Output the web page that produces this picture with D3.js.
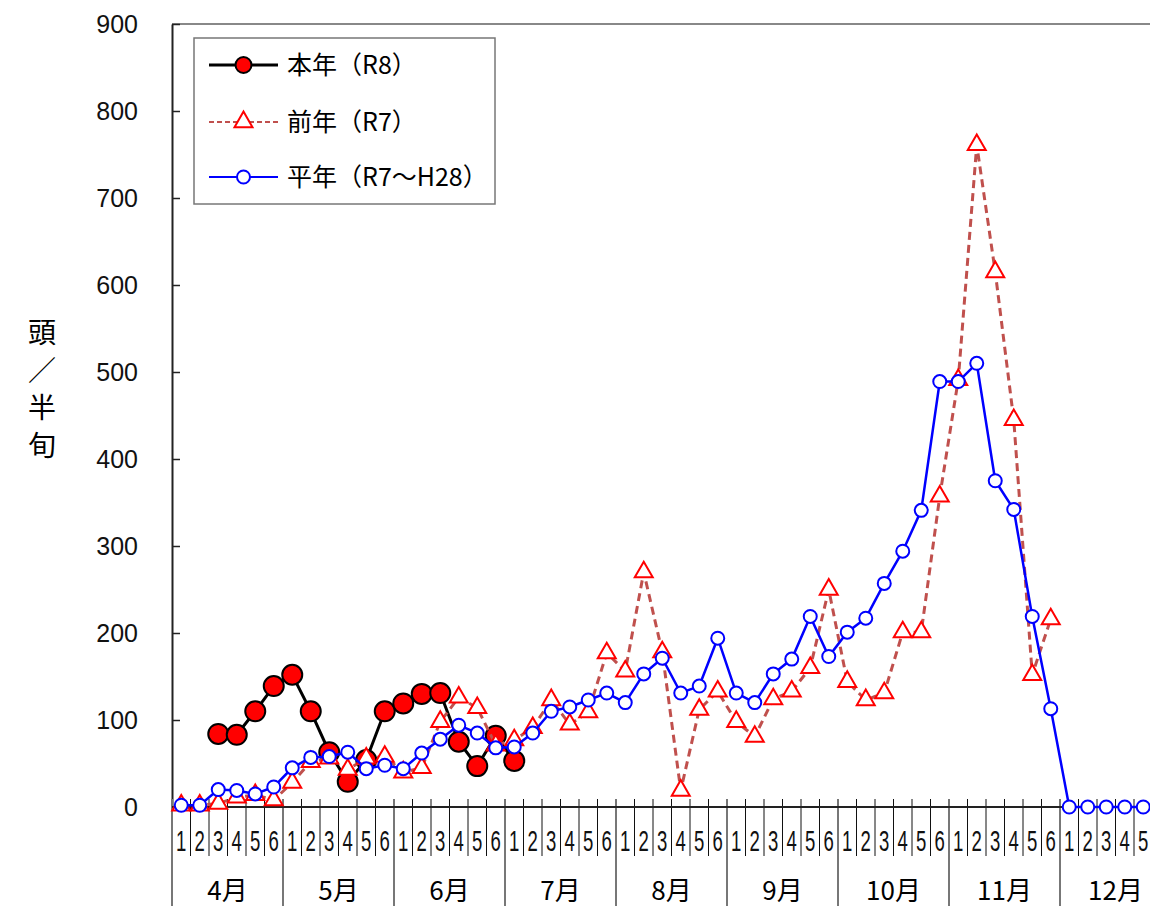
<!DOCTYPE html>
<html>
<head>
<meta charset="utf-8">
<script src="https://cdn.jsdelivr.net/npm/d3@7"></script>
<style>
  html, body { margin: 0; padding: 0; background: #fff; overflow: hidden; }
</style>
</head>
<body>
<script>
// months and 半旬 (1-6) per month
const months = ["4月", "5月", "6月", "7月", "8月", "9月", "10月", "11月", "12月"];
const thirds = ["1", "2", "3", "4", "5", "6"];

// 本年 (R8)
const thisYear = [null, null, 84, 83, 110, 139,
                  152, 110, 63, 29, 54, 110,
                  119, 130, 131, 75, 47, 82,
                  53];
// 前年 (R7)
const lastYear = [2, 2, 4, 11, 14, 8,
                  28, 52, 56, 43, 56, 58,
                  40, 45, 98, 126, 114, 71,
                  77, 91, 123, 95, 109, 177,
                  156, 270, 178, 19, 112, 133,
                  98, 81, 124, 133, 160, 250,
                  144, 123, 131, 201, 201, 357,
                  491, 761, 615, 445, 152, 216];
// 平年 (R7～H28)
const normalYear = [2, 2, 20, 19, 15, 23,
                    45, 57, 58, 63, 44, 48,
                    44, 62, 78, 94, 85, 68,
                    69, 85, 110, 115, 123, 131,
                    120, 153, 171, 131, 139, 194,
                    131, 120, 153, 170, 219, 173,
                    201, 217, 257, 294, 341, 489,
                    489, 510, 375, 342, 219, 113,
                    0, 0, 0, 0, 0, 0];

const yTicks = [0, 100, 200, 300, 400, 500, 600, 700, 800, 900];

document.addEventListener('DOMContentLoaded', function() {
    const width = 1150, height = 906;
    const left = 172, top = 24, bottom = 807;
    const step = 18.5;

    const slots = [];
    months.forEach((m, mi) => thirds.forEach((t, ti) => slots.push({key: mi + "-" + ti, month: m, label: t, i: mi * 6 + ti})));

    const svg = d3.select("body").append("svg")
        .attr("width", width)
        .attr("height", height)
        .style("font-family", "'Noto Sans CJK JP', sans-serif");

    const x = d3.scaleBand()
        .domain(slots.map(d => d.key))
        .range([left, left + slots.length * step])
        .padding(0);

    const y = d3.scaleLinear()
        .domain([0, 900])
        .range([bottom, top]);

    const cx = i => x(slots[i].key) + x.bandwidth() / 2;

    // top border of plot area
    svg.append("line")
        .attr("x1", left).attr("x2", left + slots.length * step)
        .attr("y1", top).attr("y2", top)
        .attr("stroke", "#888").attr("stroke-width", 2);

    // y axis
    const yAxis = svg.append("g")
        .attr("transform", `translate(${left},0)`)
        .call(d3.axisLeft(y).tickValues(yTicks).tickSizeInner(-8).tickSizeOuter(0).tickPadding(34));
    yAxis.select(".domain").attr("stroke", "#222").attr("stroke-width", 2);
    yAxis.selectAll(".tick line").attr("stroke", "#222").attr("stroke-width", 1.5);
    yAxis.selectAll(".tick text")
        .style("font-family", "'Liberation Sans', Arial, sans-serif")
        .style("font-size", "25px")
        .attr("fill", "#111");

    // y axis title, vertical
    const title = ["頭", "／", "半", "旬"];
    svg.append("g").selectAll("text")
        .data(title)
        .join("text")
        .attr("x", 42)
        .attr("y", (d, i) => 343 + i * 37.5)
        .attr("text-anchor", "middle")
        .style("font-size", "28px")
        .attr("fill", "#000")
        .text(d => d);

    // x axis: slot separators and month separators
    const xa = svg.append("g");
    xa.selectAll("line.slot")
        .data(slots.filter(d => d.i % 6 !== 0))
        .join("line")
        .attr("class", "slot")
        .attr("x1", d => x(d.key)).attr("x2", d => x(d.key))
        .attr("y1", bottom - 8).attr("y2", 856)
        .attr("stroke", "#111").attr("stroke-width", 1);
    xa.selectAll("line.month")
        .data(slots.filter(d => d.i % 6 === 0))
        .join("line")
        .attr("class", "month")
        .attr("x1", d => x(d.key)).attr("x2", d => x(d.key))
        .attr("y1", bottom - 8).attr("y2", height)
        .attr("stroke", "#777").attr("stroke-width", 2);
    xa.append("line")
        .attr("x1", left).attr("x2", left + slots.length * step)
        .attr("y1", bottom).attr("y2", bottom)
        .attr("stroke", "#222").attr("stroke-width", 2);

    xa.selectAll("text.slot")
        .data(slots)
        .join("text")
        .attr("class", "slot")
        .attr("transform", d => `translate(${x(d.key) + x.bandwidth() / 2},851) scale(0.64,1)`)
        .attr("text-anchor", "middle")
        .style("font-family", "'Liberation Sans', Arial, sans-serif")
        .style("font-size", "29px")
        .attr("fill", "#111")
        .text(d => d.label);

    xa.selectAll("text.month")
        .data(months)
        .join("text")
        .attr("class", "month")
        .attr("x", (d, mi) => x(mi + "-0") + 3 * step)
        .attr("y", 900)
        .attr("text-anchor", "middle")
        .style("font-size", "26px")
        .attr("fill", "#000")
        .text(d => d);

    const line = d3.line()
        .defined(d => d != null)
        .x((d, i) => cx(i))
        .y(d => y(d));

    // 本年
    svg.append("path")
        .datum(thisYear)
        .attr("d", line)
        .attr("fill", "none")
        .attr("stroke", "#000")
        .attr("stroke-width", 3);
    svg.append("g").selectAll("circle")
        .data(thisYear.map((v, i) => ({v, i})).filter(d => d.v != null))
        .join("circle")
        .attr("cx", d => cx(d.i))
        .attr("cy", d => y(d.v))
        .attr("r", 10)
        .attr("fill", "#ff0000")
        .attr("stroke", "#000")
        .attr("stroke-width", 2);

    // 前年
    svg.append("path")
        .datum(lastYear)
        .attr("d", line)
        .attr("fill", "none")
        .attr("stroke", "#c0504d")
        .attr("stroke-width", 3)
        .attr("stroke-dasharray", "8,5");
    const tri = d3.symbol().type(d3.symbolTriangle).size(140);
    svg.append("g").selectAll("path")
        .data(lastYear.map((v, i) => ({v, i})))
        .join("path")
        .attr("d", tri)
        .attr("transform", d => `translate(${cx(d.i)},${y(d.v)})`)
        .attr("fill", "#fff")
        .attr("stroke", "#ff0000")
        .attr("stroke-width", 2);

    // 平年
    svg.append("path")
        .datum(normalYear)
        .attr("d", line)
        .attr("fill", "none")
        .attr("stroke", "#0000ff")
        .attr("stroke-width", 2.5);
    svg.append("g").selectAll("circle")
        .data(normalYear.map((v, i) => ({v, i})))
        .join("circle")
        .attr("cx", d => cx(d.i))
        .attr("cy", d => y(d.v))
        .attr("r", 6.5)
        .attr("fill", "#fff")
        .attr("stroke", "#0000ff")
        .attr("stroke-width", 2);

    // legend
    const legend = svg.append("g");
    legend.append("rect")
        .attr("x", 194).attr("y", 38)
        .attr("width", 301).attr("height", 166)
        .attr("fill", "#fff")
        .attr("stroke", "#777")
        .attr("stroke-width", 1.5);

    const items = [
        {name: "本年（R8）", stroke: "#000", dash: null, w: 3, mark: "big"},
        {name: "前年（R7）", stroke: "#c0504d", dash: "5,3", w: 2, mark: "tri"},
        {name: "平年（R7～H28）", stroke: "#0000ff", dash: null, w: 2, mark: "small"}
    ];
    const rowY = [65, 122, 177];
    items.forEach((it, k) => {
        const g = legend.append("g").attr("transform", `translate(0,${rowY[k]})`);
        g.append("line")
            .attr("x1", 209).attr("x2", 278)
            .attr("stroke", it.stroke)
            .attr("stroke-width", it.w)
            .attr("stroke-dasharray", it.dash);
        if (it.mark === "big") {
            g.append("circle").attr("cx", 243.5).attr("r", 8)
                .attr("fill", "#ff0000").attr("stroke", "#000").attr("stroke-width", 2);
        } else if (it.mark === "tri") {
            g.append("path").attr("d", tri).attr("transform", "translate(243.5,0)")
                .attr("fill", "#fff").attr("stroke", "#ff0000").attr("stroke-width", 2);
        } else {
            g.append("circle").attr("cx", 243.5).attr("r", 6.5)
                .attr("fill", "#fff").attr("stroke", "#0000ff").attr("stroke-width", 2);
        }
        g.append("text")
            .attr("x", 287)
            .attr("dy", "0.36em")
            .style("font-size", "25px")
            .attr("fill", "#000")
            .text(it.name);
    });
});
</script>
</body>
</html>
